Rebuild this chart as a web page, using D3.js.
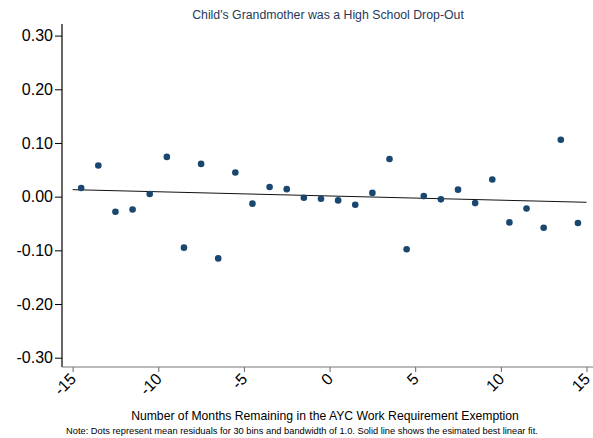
<!DOCTYPE html>
<html>
<head>
<meta charset="utf-8">
<script src="https://cdn.jsdelivr.net/npm/d3@7"></script>
<style>
  html, body { margin: 0; padding: 0; background: #fff; }
  svg { display: block; font-family: "Liberation Sans", Arial, sans-serif; }
</style>
</head>
<body>
<svg id="chart" width="593" height="438"></svg>
<script>
// Bin midpoints (months remaining) and mean residuals per bin
const binCenters = [-14.5, -13.5, -12.5, -11.5, -10.5, -9.5, -8.5, -7.5, -6.5, -5.5,
                    -4.5, -3.5, -2.5, -1.5, -0.5, 0.5, 1.5, 2.5, 3.5, 4.5,
                    5.5, 6.5, 7.5, 8.5, 9.5, 10.5, 11.5, 12.5, 13.5, 14.5];
const meanResiduals = [0.016, 0.058, -0.028, -0.024, 0.005, 0.074, -0.095, 0.061, -0.115, 0.045,
                       -0.013, 0.018, 0.014, -0.002, -0.004, -0.007, -0.015, 0.007, 0.070, -0.098,
                       0.001, -0.005, 0.013, -0.012, 0.032, -0.048, -0.022, -0.058, 0.106, -0.049];
// Estimated linear fit, evaluated at its two ends
const fitX = [-15, 15];
const fitY = [0.013, -0.0105];

const yTicks = [0.30, 0.20, 0.10, 0.00, -0.10, -0.20, -0.30];
const xTicks = [-15, -10, -5, 0, 5, 10, 15];

const titleText = "Child's Grandmother was a High School Drop-Out";
const xTitle = "Number of Months Remaining in the AYC Work Requirement Exemption";
const noteText = "Note: Dots represent mean residuals for 30 bins and bandwidth of 1.0. Solid line shows the esimated best linear fit.";

const svg = d3.select("#chart");
const plot = { left: 62, right: 593, top: 24, bottom: 367 };

const x = d3.scaleLinear().domain([-15.62, 15.38]).range([plot.left, plot.right]);
const y = d3.scaleLinear().domain([-0.3, 0.3]).range([357.7, 35.6]);

// Plain hyphen for negative numbers
const fmtY = d => d3.format(".2f")(d).replace("\u2212", "-");
const fmtX = d => d3.format("d")(d).replace("\u2212", "-");

// Title
svg.append("text")
  .attr("x", 328).attr("y", 19)
  .attr("text-anchor", "middle")
  .attr("font-size", 12.3)
  .attr("fill", "#263a5c")
  .text(titleText);

// Y axis
const yAxis = svg.append("g")
  .attr("transform", `translate(${plot.left},0)`)
  .call(d3.axisLeft(y).tickValues(yTicks).tickFormat(fmtY).tickSize(7).tickPadding(2));
yAxis.select(".domain").remove();
yAxis.selectAll(".tick line").attr("stroke", "#000");
yAxis.selectAll(".tick text")
  .attr("font-size", 16)
  .attr("fill", "#000")
  .attr("font-family", "'Liberation Sans', Arial, sans-serif");
svg.append("line")
  .attr("x1", plot.left).attr("x2", plot.left)
  .attr("y1", plot.top).attr("y2", plot.bottom)
  .attr("stroke", "#000").attr("stroke-width", 1.2);

// X axis
const xAxis = svg.append("g")
  .attr("transform", `translate(0,${plot.bottom})`)
  .call(d3.axisBottom(x).tickValues(xTicks).tickFormat(fmtX).tickSize(5));
xAxis.select(".domain").remove();
xAxis.selectAll(".tick line").attr("stroke", "#666");
xAxis.selectAll(".tick text")
  .attr("font-size", 16)
  .attr("fill", "#000")
  .attr("font-family", "'Liberation Sans', Arial, sans-serif")
  .attr("text-anchor", "end")
  .attr("dy", 0)
  .attr("y", 0)
  .attr("transform", "translate(4,13) rotate(-45)");
svg.append("line")
  .attr("x1", plot.left).attr("x2", plot.right)
  .attr("y1", plot.bottom).attr("y2", plot.bottom)
  .attr("stroke", "#777").attr("stroke-width", 1.2);

// Fit line
svg.append("line")
  .attr("x1", x(fitX[0])).attr("y1", y(fitY[0]))
  .attr("x2", x(fitX[1])).attr("y2", y(fitY[1]))
  .attr("stroke", "#111").attr("stroke-width", 1);

// Binned means
svg.append("g").selectAll("circle")
  .data(binCenters.map((c, i) => [c, meanResiduals[i]]))
  .join("circle")
  .attr("cx", d => x(d[0]))
  .attr("cy", d => y(d[1]))
  .attr("r", 3.3)
  .attr("fill", "#1a476f");

// Axis title and note
svg.append("text")
  .attr("x", 325).attr("y", 420)
  .attr("text-anchor", "middle")
  .attr("font-size", 12.2)
  .attr("fill", "#000")
  .text(xTitle);

svg.append("text")
  .attr("x", 66).attr("y", 434)
  .attr("font-size", 9.3)
  .attr("fill", "#000")
  .text(noteText);
</script>
</body>
</html>
